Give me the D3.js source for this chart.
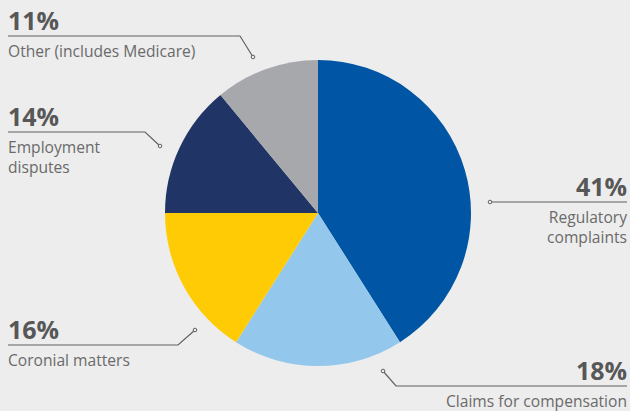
<!DOCTYPE html>
<html>
<head>
<meta charset="utf-8">
<script src="https://cdn.jsdelivr.net/npm/d3@7"></script>
<style>
  html, body { margin: 0; padding: 0; background: #ededed; }
  svg { display: block; font-family: "Open Sans", sans-serif; }
</style>
</head>
<body>
<div id="chart"></div>
<script>
const categories = ["Regulatory complaints", "Claims for compensation", "Coronial matters", "Employment disputes", "Other (includes Medicare)"];
const values = [41, 18, 16, 14, 11];
const labelLines = [["Regulatory", "complaints"], ["Claims for compensation"], ["Coronial matters"], ["Employment", "disputes"], ["Other (includes Medicare)"]];
const colors = ["#0056a4", "#93c8ec", "#ffcb05", "#213466", "#a7a8ac"];

// label placement: side, rule y, rule end x, elbow x, dot
const callouts = [
  {side: "right", y: 202, x0: 490, x1: 627, elbow: null, dot: [490, 202]},
  {side: "right", y: 386, x0: 396, x1: 627, elbow: 396, dot: [383, 371]},
  {side: "left", y: 345, x0: 8, x1: 178, elbow: 178, dot: [195, 330]},
  {side: "left", y: 132, x0: 8, x1: 145, elbow: 145, dot: [160, 146]},
  {side: "left", y: 36, x0: 8, x1: 240, elbow: 240, dot: [253, 57]}
];

const width = 630, height = 411;
const cx = 318, cy = 213, r = 153;

const svg = d3.select("#chart")
  .append("svg")
  .attr("width", width)
  .attr("height", height);

const pie = d3.pie().sort(null).value(d => d);
const arc = d3.arc().innerRadius(0).outerRadius(r);

svg.append("g")
  .attr("transform", `translate(${cx},${cy})`)
  .selectAll("path")
  .data(pie(values))
  .enter()
  .append("path")
  .attr("d", arc)
  .attr("fill", (d, i) => colors[i]);

const labels = svg.append("g");

categories.forEach((c, i) => {
  const co = callouts[i];
  const g = labels.append("g");
  const pts = [[co.x0, co.y], [co.x1, co.y]];
  if (co.side === "left") {
    pts.push(co.dot);
  } else if (co.elbow !== null) {
    pts.unshift(co.dot);
  }
  g.append("path")
    .attr("d", d3.line()(pts))
    .attr("fill", "none")
    .attr("stroke", "#606060")
    .attr("stroke-width", 1.2);
  g.append("circle")
    .attr("cx", co.dot[0])
    .attr("cy", co.dot[1])
    .attr("r", 1.8)
    .attr("fill", "#ededed")
    .attr("stroke", "#606060")
    .attr("stroke-width", 1);

  const tx = co.side === "left" ? 8 : 627;
  const anchor = co.side === "left" ? "start" : "end";
  g.append("text")
    .attr("x", tx)
    .attr("y", co.y - 6)
    .attr("text-anchor", anchor)
    .attr("font-size", 25)
    .attr("font-weight", 700)
    .attr("fill", "#575757")
    .text(values[i] + "%");
  labelLines[i].forEach((line, j) => {
    g.append("text")
      .attr("x", tx)
      .attr("y", co.y + 21 + j * 20)
      .attr("text-anchor", anchor)
      .attr("font-size", 15.6)
      .attr("fill", "#6a6a6a")
      .text(line);
  });
});
</script>
</body>
</html>
